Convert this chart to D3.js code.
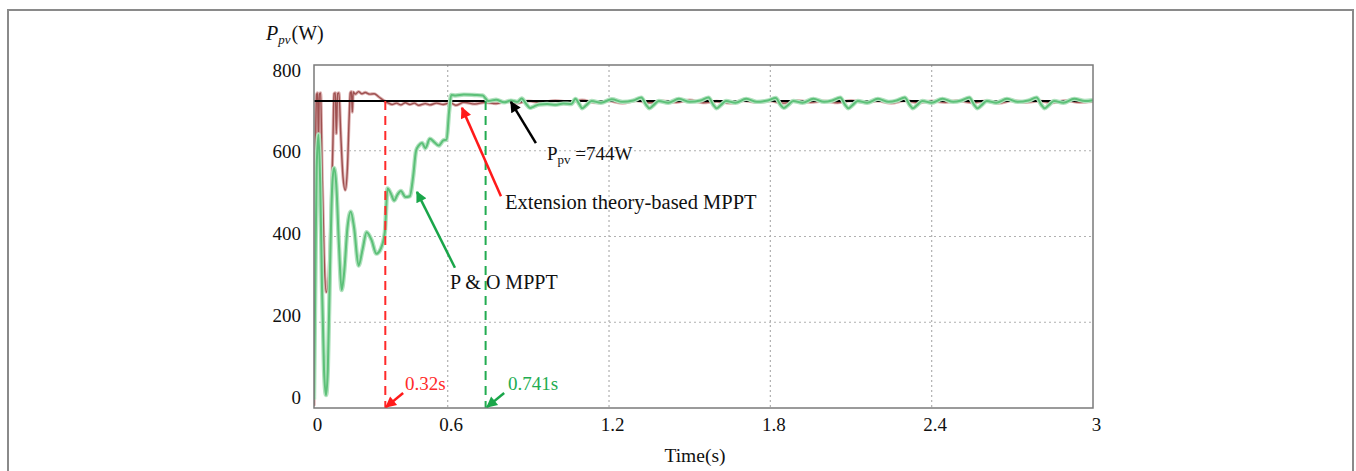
<!DOCTYPE html>
<html>
<head>
<meta charset="utf-8">
<script src="https://cdn.jsdelivr.net/npm/d3@7"></script>
<style>
  body { margin: 0; background: #fff; }
  svg text { font-family: "Liberation Serif", "Times New Roman", serif; fill: #111; }
</style>
</head>
<body>
<div id="chart"></div>
<script>
const width = 1356;
const height = 471;
const plot = {left: 314, right: 1093, top: 65, bottom: 408};

// axis ticks
const xTicks = [0, 0.6, 1.2, 1.8, 2.4, 3];
const yTicks = [0, 200, 400, 600, 800];
// the first 0.6 s of the time axis is drawn wider than the rest in the source figure
const xBreaks = [0, 0.6, 3];

// reference power line (where it sits on the plotted scale)
const mppPower = 716;

// extension theory-based MPPT, [time s, power W]
const extensionTrace = [
  [0, 5], [0.004, 300], [0.008, 650], [0.012, 732], [0.016, 735], [0.02, 620], [0.024, 732],
  [0.03, 735], [0.036, 560], [0.045, 360], [0.055, 270], [0.065, 300], [0.075, 420],
  [0.085, 620], [0.09, 733], [0.096, 735], [0.1, 640], [0.106, 733], [0.112, 735],
  [0.12, 640], [0.13, 540], [0.14, 508], [0.15, 560], [0.158, 680], [0.163, 735],
  [0.168, 738], [0.172, 690], [0.176, 737], [0.185, 732], [0.2, 738], [0.215, 733],
  [0.23, 736], [0.25, 732], [0.27, 733], [0.29, 726], [0.31, 718], [0.33, 712],
  [0.35, 708], [0.37, 711], [0.39, 707], [0.41, 712], [0.43, 708], [0.45, 711],
  [0.47, 706], [0.5, 710], [0.52, 707], [0.55, 711], [0.58, 708], [0.61, 712],
  [0.63, 706], [0.66, 713], [0.7, 709], [0.74, 713], [0.78, 710], [0.82, 715],
  [0.86, 711], [0.9, 716], [0.95, 712], [1.0, 717], [1.05, 713], [1.1, 718],
  [1.15, 712], [1.2, 716], [1.25, 711], [1.3, 717], [1.35, 712], [1.4, 716],
  [1.45, 713], [1.5, 718], [1.55, 712], [1.6, 715], [1.65, 711], [1.7, 717],
  [1.75, 713], [1.8, 716], [1.85, 711], [1.9, 717], [1.95, 713], [2.0, 716],
  [2.05, 712], [2.1, 717], [2.15, 713], [2.2, 716], [2.25, 711], [2.3, 717],
  [2.35, 712], [2.4, 716], [2.45, 713], [2.5, 717], [2.55, 712], [2.6, 716],
  [2.65, 711], [2.7, 717], [2.75, 713], [2.8, 716], [2.85, 712], [2.9, 717],
  [2.95, 713], [3.0, 715]
];

// P&O MPPT, [time s, power W]
const poTrace = [
  [0, 20], [0.006, 300], [0.012, 560], [0.02, 638], [0.028, 520], [0.036, 280],
  [0.045, 90], [0.054, 30], [0.062, 90], [0.072, 330], [0.082, 520], [0.09, 560],
  [0.1, 520], [0.112, 380], [0.124, 275], [0.136, 320], [0.15, 420], [0.165, 458],
  [0.18, 420], [0.2, 332], [0.218, 370], [0.236, 410], [0.258, 392], [0.28, 360],
  [0.3, 372], [0.318, 410], [0.33, 512], [0.345, 500], [0.36, 484], [0.375, 498],
  [0.39, 506], [0.41, 492], [0.43, 494], [0.445, 540], [0.458, 600], [0.47, 612],
  [0.485, 618], [0.5, 606], [0.52, 628], [0.54, 620], [0.56, 612], [0.58, 624],
  [0.595, 626], [0.605, 690], [0.613, 730], [0.63, 729], [0.66, 731], [0.7, 730],
  [0.73, 729], [0.741, 722], [0.75, 716], [0.78, 719], [0.81, 713], [0.835, 717],
  [0.86, 714], [0.875, 722], [0.893, 708], [0.906, 700], [0.92, 703], [0.94, 708],
  [0.97, 709], [1.0, 707], [1.03, 710], [1.06, 709], [1.075, 721], [1.09, 708],
  [1.1, 699], [1.115, 706], [1.135, 716], [1.17, 712], [1.21, 720], [1.25, 714],
  [1.29, 717], [1.32, 724], [1.338, 707], [1.35, 699], [1.365, 706], [1.385, 716],
  [1.42, 712], [1.46, 721], [1.5, 714], [1.54, 717], [1.57, 724], [1.588, 707],
  [1.6, 699], [1.615, 706], [1.635, 716], [1.67, 712], [1.71, 721], [1.75, 714],
  [1.79, 717], [1.82, 723], [1.838, 707], [1.85, 700], [1.865, 706], [1.885, 716],
  [1.92, 712], [1.96, 721], [2.0, 714], [2.03, 717], [2.06, 724], [2.078, 707],
  [2.09, 699], [2.105, 706], [2.125, 716], [2.16, 712], [2.2, 721], [2.24, 714],
  [2.27, 717], [2.3, 724], [2.318, 707], [2.33, 699], [2.345, 706], [2.365, 716],
  [2.4, 712], [2.44, 721], [2.48, 714], [2.51, 717], [2.54, 724], [2.558, 707],
  [2.57, 699], [2.585, 706], [2.605, 716], [2.64, 712], [2.68, 721], [2.72, 714],
  [2.76, 717], [2.79, 724], [2.808, 707], [2.82, 699], [2.835, 706], [2.855, 716],
  [2.89, 712], [2.93, 721], [2.97, 716], [3.0, 718]
];

// settling time markers
const settleTimes = [0.32, 0.741];
const settleLabels = ["0.32s", "0.741s"];

// annotation arrows in data units: [tail t, tail P, tip t, tip P]
const arrowLines = [
  [0.928, 618, 0.835, 714],
  [0.798, 494, 0.653, 700],
  [0.627, 327, 0.462, 504],
  [0.40, 35, 0.323, 2],
  [0.81, 35, 0.746, 2]
];
const arrowColors = ["#000", "#ff1a1a", "#1aa64a", "#ff1a1a", "#1aa64a"];

const colors = {
  ext: "#9e5050", extHalo: "#dcb0b0",
  po: "#5cc078", poHalo: "#b2e2bf",
  red: "#ff2a2a", green: "#22ac50"
};

const svg = d3.select("#chart").append("svg")
  .attr("width", width).attr("height", height);

// outer figure frame
svg.append("rect")
  .attr("x", 8).attr("y", 10).attr("width", 1345).attr("height", 480)
  .attr("fill", "none").attr("stroke", "#8a8a8a").attr("stroke-width", 2);

const x = d3.scaleLinear().domain(xBreaks)
  .range([plot.left, plot.left + 133.7, plot.right]);
const y = d3.scaleLinear().domain([0, 800]).range([plot.bottom, plot.top]);
// tick labels in the source sit a bit inside the axis ends
const yLabel = d3.scaleLinear().domain([0, 800]).range([397, 70]);

// grid
const grid = svg.append("g").attr("stroke", "#b0b0b0").attr("stroke-width", 1.2)
  .attr("stroke-dasharray", "2,3");
grid.selectAll("line.v").data(xTicks.slice(1, -1)).enter().append("line")
  .attr("x1", (d) => x(d)).attr("x2", (d) => x(d))
  .attr("y1", plot.top).attr("y2", plot.bottom);
grid.selectAll("line.h").data(yTicks.slice(1, -1)).enter().append("line")
  .attr("x1", plot.left).attr("x2", plot.right)
  .attr("y1", (d) => y(d)).attr("y2", (d) => y(d));

// axes (labels only, frame drawn below)
const xAxis = svg.append("g")
  .attr("transform", `translate(0,${plot.bottom})`)
  .call(d3.axisBottom(x).tickValues(xTicks).tickSize(0).tickPadding(10)
    .tickFormat((d) => d === 0 || d === 3 ? d3.format("d")(d) : d3.format(".1f")(d)));
xAxis.select(".domain").remove();
xAxis.selectAll("text").attr("font-size", 19).attr("dx", 3).attr("fill", "#111")
  .style("font-family", "Liberation Serif");

const yAxis = svg.append("g")
  .attr("transform", `translate(${plot.left},0)`)
  .call(d3.axisLeft(yLabel).tickValues(yTicks).tickSize(0).tickPadding(13));
yAxis.select(".domain").remove();
yAxis.selectAll("text").attr("font-size", 19).attr("fill", "#111")
  .style("font-family", "Liberation Serif");

// clip for traces
svg.append("clipPath").attr("id", "clip").append("rect")
  .attr("x", plot.left).attr("y", plot.top)
  .attr("width", plot.right - plot.left).attr("height", plot.bottom - plot.top);

const line = d3.line()
  .x((d) => x(d[0]))
  .y((d) => y(d[1]))
  .curve(d3.curveMonotoneX);

const traces = svg.append("g").attr("clip-path", "url(#clip)");

function drawTrace(data, halo, core, haloWidth, coreWidth) {
  traces.append("path").attr("d", line(data)).attr("fill", "none")
    .attr("stroke", halo).attr("stroke-width", haloWidth).attr("stroke-linejoin", "round");
  traces.append("path").attr("d", line(data)).attr("fill", "none")
    .attr("stroke", core).attr("stroke-width", coreWidth).attr("stroke-linejoin", "round");
}

drawTrace(extensionTrace, colors.extHalo, colors.ext, 3.2, 1.4);

// maximum power reference line
traces.append("line")
  .attr("x1", plot.left).attr("x2", plot.right)
  .attr("y1", y(mppPower)).attr("y2", y(mppPower))
  .attr("stroke", "#000").attr("stroke-width", 2);

drawTrace(poTrace, colors.poHalo, colors.po, 4.4, 2);

// settling time dashed lines
const markColors = [colors.red, colors.green];
svg.selectAll("line.settle").data(settleTimes).enter().append("line")
  .attr("x1", (d) => x(d)).attr("x2", (d) => x(d))
  .attr("y1", y(mppPower)).attr("y2", plot.bottom)
  .attr("stroke", (d, i) => markColors[i]).attr("stroke-width", 2)
  .attr("stroke-dasharray", "9,6");

// plot frame
svg.append("rect")
  .attr("x", plot.left).attr("y", plot.top)
  .attr("width", plot.right - plot.left).attr("height", plot.bottom - plot.top)
  .attr("fill", "none").attr("stroke", "#7a7a7a").attr("stroke-width", 1.5);

// arrow heads
const defs = svg.append("defs");
arrowColors.forEach((c, i) => {
  defs.append("marker").attr("id", `arrow${i}`)
    .attr("viewBox", "0 0 10 10").attr("refX", 9).attr("refY", 5)
    .attr("markerWidth", 13).attr("markerHeight", 11)
    .attr("markerUnits", "userSpaceOnUse").attr("orient", "auto")
    .append("path").attr("d", "M0,0 L10,5 L0,10 Z").attr("fill", c);
});

svg.selectAll("line.arrow").data(arrowLines).enter().append("line")
  .attr("x1", (d) => x(d[0])).attr("y1", (d) => y(d[1]))
  .attr("x2", (d) => x(d[2])).attr("y2", (d) => y(d[3]))
  .attr("stroke", (d, i) => arrowColors[i]).attr("stroke-width", 2.5)
  .attr("marker-end", (d, i) => `url(#arrow${i})`);

// settling time labels
svg.selectAll("text.settle").data(settleTimes).enter().append("text")
  .attr("x", (d, i) => x([0.408, 0.824][i])).attr("y", y(42))
  .attr("font-size", 19).style("fill", (d, i) => markColors[i])
  .text((d, i) => settleLabels[i]);

// callout texts
const ppv = svg.append("text").attr("x", x(0.969)).attr("y", y(578)).attr("font-size", 19);
ppv.append("tspan").text("P");
ppv.append("tspan").attr("font-size", 13).attr("dy", 4).text("pv");
ppv.append("tspan").attr("dy", -4).text(" =744W");

svg.append("text").attr("x", x(0.813)).attr("y", y(464)).attr("font-size", 20.5)
  .text("Extension theory-based MPPT");

svg.append("text").attr("x", x(0.6085)).attr("y", y(278)).attr("font-size", 20)
  .text("P & O MPPT");

// axis titles
const yTitle = svg.append("text").attr("x", 266).attr("y", 40).attr("font-size", 20);
yTitle.append("tspan").attr("font-style", "italic").text("P");
yTitle.append("tspan").attr("font-style", "italic").attr("font-size", 13).attr("dy", 4).text("pv");
yTitle.append("tspan").attr("dy", -4).attr("dx", 1).text("(W)");

svg.append("text").attr("x", 695).attr("y", 462)
  .attr("text-anchor", "middle").attr("font-size", 19.5).text("Time(s)");
</script>
</body>
</html>
